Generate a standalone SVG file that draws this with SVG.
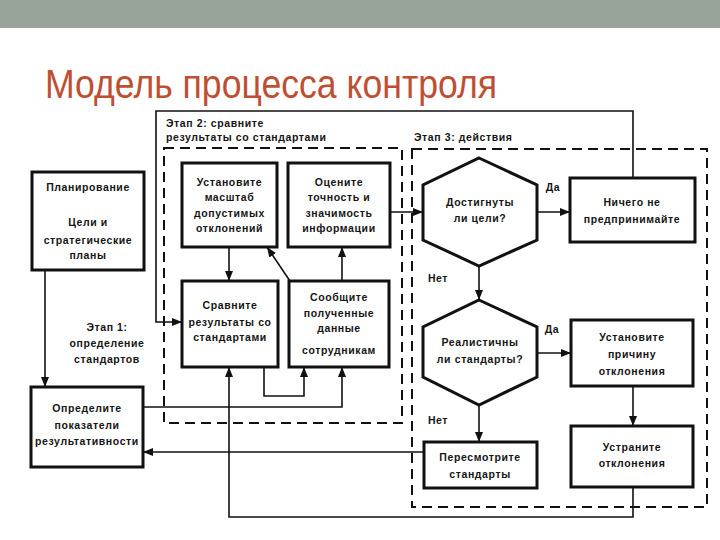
<svg xmlns="http://www.w3.org/2000/svg" width="720" height="540" viewBox="0 0 720 540">
<defs>
<style>
.t{font-family:"Liberation Sans",Arial,sans-serif;font-size:10.5px;font-weight:bold;letter-spacing:0.6px;fill:#151515;text-anchor:middle}
.ts{font-family:"Liberation Sans",Arial,sans-serif;font-size:10.5px;font-weight:bold;letter-spacing:0.6px;fill:#151515}
.box{fill:#fff;stroke:#111;stroke-width:3}
.dash{fill:none;stroke:#111;stroke-width:2;stroke-dasharray:10 6}
.ln{fill:none;stroke:#111;stroke-width:1.6}
.ar{fill:none;stroke:#111;stroke-width:1.6;marker-end:url(#ah)}
</style>
<marker id="ah" viewBox="0 0 10 8" refX="10" refY="4" markerWidth="10" markerHeight="8" markerUnits="userSpaceOnUse" orient="auto">
<path d="M0,0 L10,4 L0,8 Z" fill="#111"/>
</marker>
</defs>
<rect x="0" y="0" width="720" height="540" fill="#fff"/>
<rect x="0" y="0" width="720" height="28" fill="#97a499"/>
<text x="45" y="98" font-family="'Liberation Sans',Arial,sans-serif" font-size="41" fill="#bf4f33" textLength="452" lengthAdjust="spacingAndGlyphs">Модель процесса контроля</text>

<g id="frames">
<rect class="dash" x="164" y="148" width="238" height="275"/>
<rect class="dash" x="412" y="149" width="295" height="358"/>
</g>
<g id="stage-labels">
<text class="ts" x="166" y="127">Этап 2: сравните</text>
<text class="ts" x="166" y="141">результаты со стандартами</text>
<text class="ts" x="414" y="141">Этап 3: действия</text>
<text class="t" x="107" y="331">Этап 1:</text>
<text class="t" x="107" y="347">определение</text>
<text class="t" x="107" y="363">стандартов</text>
<text class="t" x="553" y="191">Да</text>
<text class="t" x="552" y="333">Да</text>
<text class="t" x="438" y="282">Нет</text>
<text class="t" x="438" y="424">Нет</text>
</g>

<g id="connectors">
<polyline class="ar" points="633,178 633,111 156,111 156,322 182,322"/>
<line class="ar" x1="45" y1="270" x2="45" y2="387"/>
<line class="ar" x1="229" y1="247" x2="229" y2="281"/>
<line class="ar" x1="290" y1="281" x2="267" y2="247"/>
<line class="ar" x1="342" y1="281" x2="342" y2="247"/>
<polyline class="ar" points="264,367 264,396 304,396 304,367"/>
<polyline class="ar" points="143,407 342,407 342,367"/>
<polyline class="ar" points="633,487 633,517 229,517 229,367"/>
<line class="ar" x1="390" y1="212" x2="423" y2="212"/>
<line class="ar" x1="537" y1="212" x2="570" y2="212"/>
<line class="ar" x1="479" y1="266" x2="479" y2="300"/>
<line class="ar" x1="537" y1="353" x2="571" y2="353"/>
<line class="ar" x1="479" y1="405" x2="479" y2="442"/>
<line class="ar" x1="633" y1="386" x2="633" y2="426"/>
<line class="ar" x1="424" y1="452" x2="143" y2="452"/>
</g>

<g id="planning">
<rect class="box" x="32" y="172" width="112" height="98"/>
<text class="t" x="88" y="191">Планирование</text>
<text class="t" x="88" y="226">Цели и</text>
<text class="t" x="88" y="244">стратегические</text>
<text class="t" x="88" y="259">планы</text>
</g>
<g id="define">
<rect class="box" x="31" y="387" width="112" height="80"/>
<text class="t" x="87" y="412">Определите</text>
<text class="t" x="87" y="429">показатели</text>
<text class="t" x="87" y="445">результативности</text>
</g>
<g id="set-scale">
<rect class="box" x="182" y="163" width="95" height="84"/>
<text class="t" x="229.5" y="186">Установите</text>
<text class="t" x="229.5" y="201">масштаб</text>
<text class="t" x="229.5" y="217">допустимых</text>
<text class="t" x="229.5" y="232">отклонений</text>
</g>
<g id="evaluate">
<rect class="box" x="288" y="163" width="102" height="84"/>
<text class="t" x="339" y="186">Оцените</text>
<text class="t" x="339" y="201">точность и</text>
<text class="t" x="339" y="217">значимость</text>
<text class="t" x="339" y="232">информации</text>
</g>
<g id="compare">
<rect class="box" x="182" y="281" width="96" height="86"/>
<text class="t" x="230" y="309">Сравните</text>
<text class="t" x="230" y="326">результаты со</text>
<text class="t" x="230" y="341">стандартами</text>
</g>
<g id="report">
<rect class="box" x="289" y="281" width="100" height="86"/>
<text class="t" x="339" y="301">Сообщите</text>
<text class="t" x="339" y="317">полученные</text>
<text class="t" x="339" y="332">данные</text>
<text class="t" x="339" y="354">сотрудникам</text>
</g>
<g id="goals-reached">
<polygon class="box" points="479,158 537,185 537,240 479,266 423,240 423,185"/>
<text class="t" x="480" y="206">Достигнуты</text>
<text class="t" x="480" y="222">ли цели?</text>
</g>
<g id="do-nothing">
<rect class="box" x="570" y="178" width="125" height="64"/>
<text class="t" x="632" y="206">Ничего не</text>
<text class="t" x="632" y="223">предпринимайте</text>
</g>
<g id="realistic">
<polygon class="box" points="479,300 537,327 537,377 479,405 423,377 423,327"/>
<text class="t" x="480" y="346">Реалистичны</text>
<text class="t" x="480" y="363">ли стандарты?</text>
</g>
<g id="find-cause">
<rect class="box" x="571" y="320" width="122" height="66"/>
<text class="t" x="632" y="341">Установите</text>
<text class="t" x="632" y="358">причину</text>
<text class="t" x="632" y="375">отклонения</text>
</g>
<g id="revise">
<rect class="box" x="424" y="442" width="113" height="46"/>
<text class="t" x="480" y="461">Пересмотрите</text>
<text class="t" x="480" y="478">стандарты</text>
</g>
<g id="eliminate">
<rect class="box" x="571" y="426" width="122" height="61"/>
<text class="t" x="632" y="451">Устраните</text>
<text class="t" x="632" y="467">отклонения</text>
</g>
</svg>
